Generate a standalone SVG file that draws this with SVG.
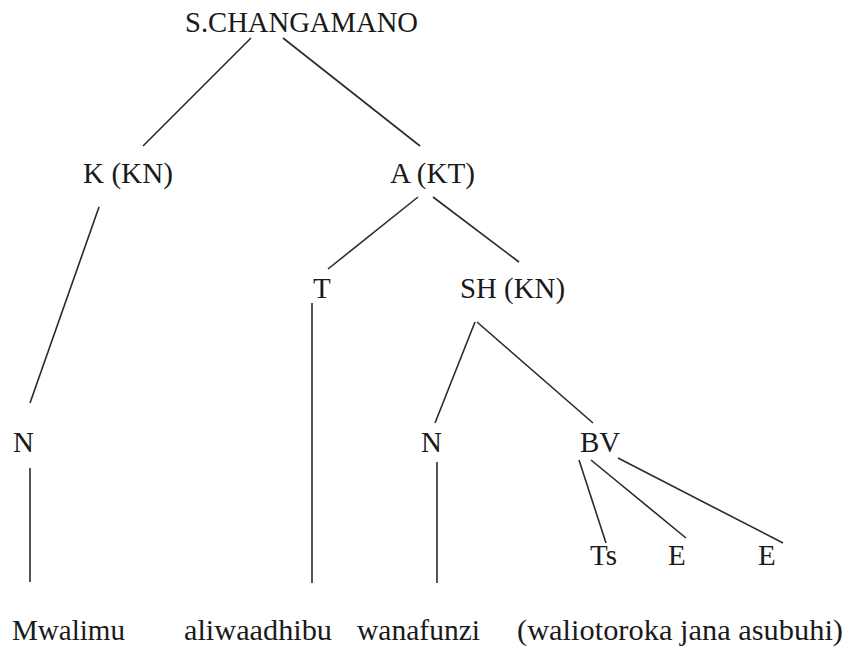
<svg xmlns="http://www.w3.org/2000/svg" width="850" height="651" viewBox="0 0 850 651">
<style>
.t{font-family:'Liberation Serif','Times New Roman',Times,serif;font-size:29px;fill:#1a1a1a}
.e line{stroke:#2a2a2a;stroke-width:1.6;fill:none}
</style>
<rect width="850" height="651" fill="#ffffff"/>
<g id="edges" class="e">
<line x1="251" y1="38" x2="143" y2="146"/>
<line x1="283" y1="38" x2="420" y2="146"/>
<line x1="99" y1="207" x2="30" y2="403"/>
<line x1="418" y1="197" x2="328" y2="269"/>
<line x1="433" y1="197" x2="519" y2="262"/>
<line x1="312" y1="303" x2="312" y2="583"/>
<line x1="475" y1="322" x2="435" y2="423"/>
<line x1="477" y1="322" x2="593" y2="423"/>
<line x1="30" y1="468" x2="30" y2="582"/>
<line x1="437" y1="462" x2="437" y2="583"/>
<line x1="579" y1="460" x2="606" y2="543"/>
<line x1="591" y1="460" x2="686" y2="538"/>
<line x1="618" y1="458" x2="783" y2="543"/>
</g>
<g class="t" font-family="Liberation Serif, serif">
<g id="n-root"><text x="185" y="32" textLength="233" lengthAdjust="spacingAndGlyphs">S.CHANGAMANO</text></g>
<g id="n-k"><text x="83" y="183" textLength="90" lengthAdjust="spacingAndGlyphs">K (KN)</text></g>
<g id="n-a"><text x="390" y="183" textLength="85" lengthAdjust="spacingAndGlyphs">A (KT)</text></g>
<g id="n-t"><text x="313" y="298">T</text></g>
<g id="n-sh"><text x="460" y="298" textLength="105" lengthAdjust="spacingAndGlyphs">SH (KN)</text></g>
<g id="n-n1"><text x="13" y="452">N</text></g>
<g id="n-n2"><text x="421" y="452">N</text></g>
<g id="n-bv"><text x="580" y="452">BV</text></g>
<g id="n-ts"><text x="590" y="565">Ts</text></g>
<g id="n-e1"><text x="668" y="565">E</text></g>
<g id="n-e2"><text x="758" y="565">E</text></g>
<g id="w-mwalimu"><text x="12" y="640" textLength="113" lengthAdjust="spacingAndGlyphs">Mwalimu</text></g>
<g id="w-aliwaadhibu"><text x="184" y="640" textLength="148" lengthAdjust="spacingAndGlyphs">aliwaadhibu</text></g>
<g id="w-wanafunzi"><text x="357" y="640" textLength="123" lengthAdjust="spacingAndGlyphs">wanafunzi</text></g>
<g id="w-waliotoroka"><text x="517" y="640" textLength="326" lengthAdjust="spacingAndGlyphs">(waliotoroka jana asubuhi)</text></g>
</g>
</svg>
